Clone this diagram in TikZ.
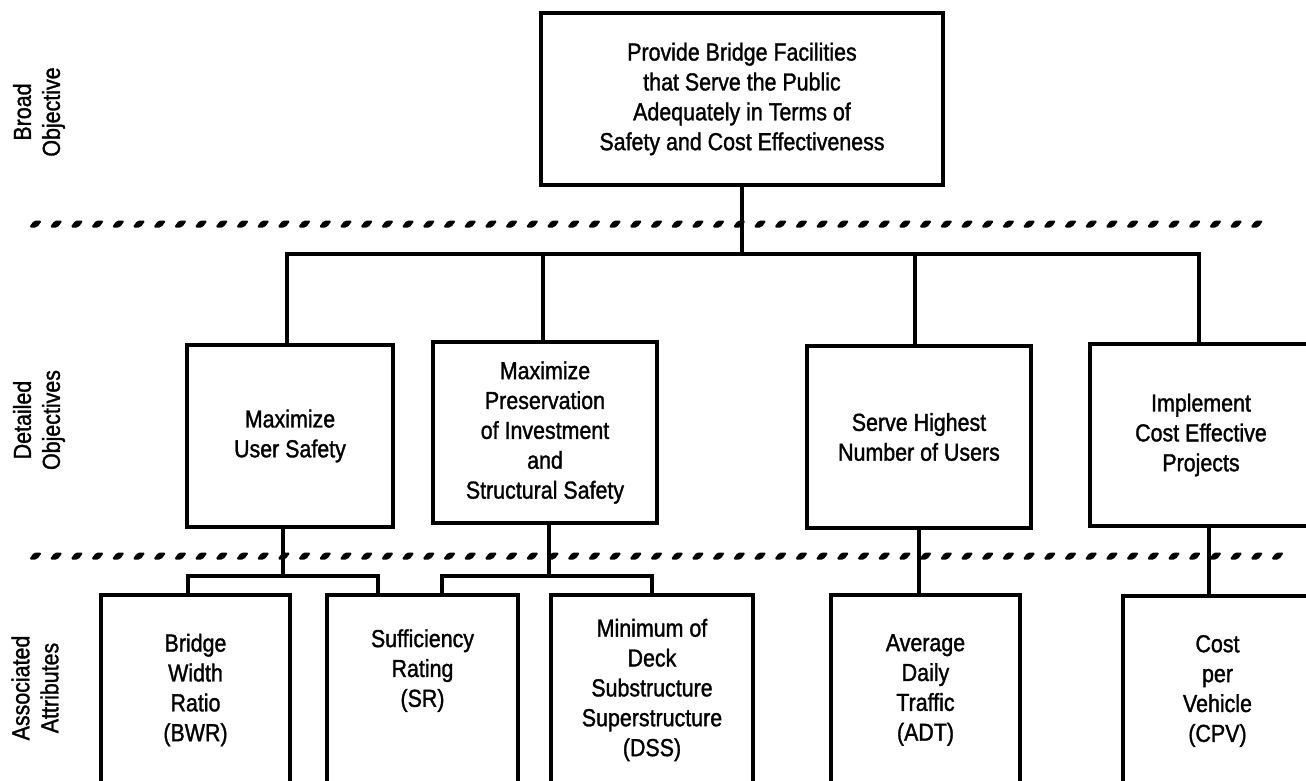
\documentclass[tikz,border=0pt]{standalone}
\usepackage{fontspec}
\setmainfont[FakeStretch=0.87, FakeBold=1.3]{Liberation Sans}
\usepackage{tikz}

\tikzset{
    box/.style={draw, line width=2.2pt, align=center, inner sep=0pt, font=\fontsize{14}{17}\selectfont},
    link/.style={line width=1.8pt},
    side/.style={rotate=90, align=center, font=\fontsize{14}{16.5}\selectfont},
}

\begin{document}
\begin{tikzpicture}[x=0.02cm, y=-0.02cm]
        \useasboundingbox (0,0) rectangle (1306,781);
        \clip (0,0) rectangle (1306,781);
        % separators between the levels
        \foreach \i in {0,...,59}
            \fill[rounded corners=1pt] ({29+20.7*\i},227.5) -- ++(8,0) -- ++(5,-7) -- ++(-8,0) -- cycle;
        \foreach \i in {0,...,60}
            \fill[rounded corners=1pt] ({29+20.7*\i},559.5) -- ++(8,0) -- ++(5,-7) -- ++(-8,0) -- cycle;

        \node[side] (broad) at (39,112) {Broad\\Objective};
        \node[side] (detailed) at (39,420) {Detailed\\Objectives};
        \node[side] (assoc) at (35,688) {Associated\\Attributes};

        \node[box, minimum width=8.04cm, minimum height=3.44cm] (goal) at (742,99)
            {Provide Bridge Facilities\\that Serve the Public\\Adequately in Terms of\\Safety and Cost Effectiveness};

        \node[box, minimum width=4.12cm, minimum height=3.64cm] (safety) at (290,436) {Maximize\\User Safety};
        \node[box, minimum width=4.48cm, minimum height=3.62cm] (preserve) at (545,432.5)
            {Maximize\\Preservation\\of Investment\\and\\Structural Safety};
        \node[box, minimum width=4.48cm, minimum height=3.64cm] (users) at (919,437) {Serve Highest\\Number of Users};
        \node[box, minimum width=4.44cm, minimum height=3.64cm] (cost) at (1201,435) {Implement\\Cost Effective\\Projects};

        \node[box, minimum width=3.78cm, minimum height=3.8cm] (bwr) at (195.5,690) {Bridge\\Width\\Ratio\\(BWR)};
        \node[box, minimum width=3.82cm, minimum height=3.8cm] (sr) at (422.5,690) {Sufficiency\\Rating\\(SR)\\[8pt]~};
        \node[box, minimum width=4.04cm, minimum height=3.8cm] (dss) at (652,690)
            {Minimum of\\Deck\\Substructure\\Superstructure\\(DSS)};
        \node[box, minimum width=3.78cm, minimum height=3.8cm] (adt) at (925.5,690) {Average\\Daily\\Traffic\\(ADT)};
        \node[box, minimum width=3.78cm, minimum height=3.8cm] (cpv) at (1217.5,691) {Cost\\per\\Vehicle\\(CPV)};

        \coordinate (upbus) at (742,254);
        \coordinate (lowbus) at (0,576);
        \coordinate (sr-l) at (378,595);
        \coordinate (sr-r) at (442,595);

        \draw[link] (goal.south) -- (goal.south |- upbus);
        \draw[link] ([xshift=-0.06cm]safety.north) |- ([xshift=-0.04cm]cost.north |- upbus) -- ([xshift=-0.04cm]cost.north);
        \draw[link] ([xshift=-0.04cm]preserve.north) -- ([xshift=-0.04cm]preserve.north |- upbus);
        \draw[link] ([xshift=-0.08cm]users.north) -- ([xshift=-0.08cm]users.north |- upbus);

        \draw[link] ([xshift=-0.14cm]safety.south) -- ([xshift=-0.14cm]safety.south |- lowbus);
        \draw[link] ([xshift=-0.15cm]bwr.north) |- (sr-l |- lowbus) -- (sr-l);
        \draw[link] ([xshift=0.08cm]preserve.south) -- ([xshift=0.08cm]preserve.south |- lowbus);
        \draw[link] (sr-r) |- (dss.north |- lowbus) -- (dss.north);
        \draw[link] (users.south) -- (users.south |- adt.north);
        \draw[link] ([xshift=0.16cm]cost.south) -- ([xshift=0.16cm]cost.south |- cpv.north);
\end{tikzpicture}
\end{document}
